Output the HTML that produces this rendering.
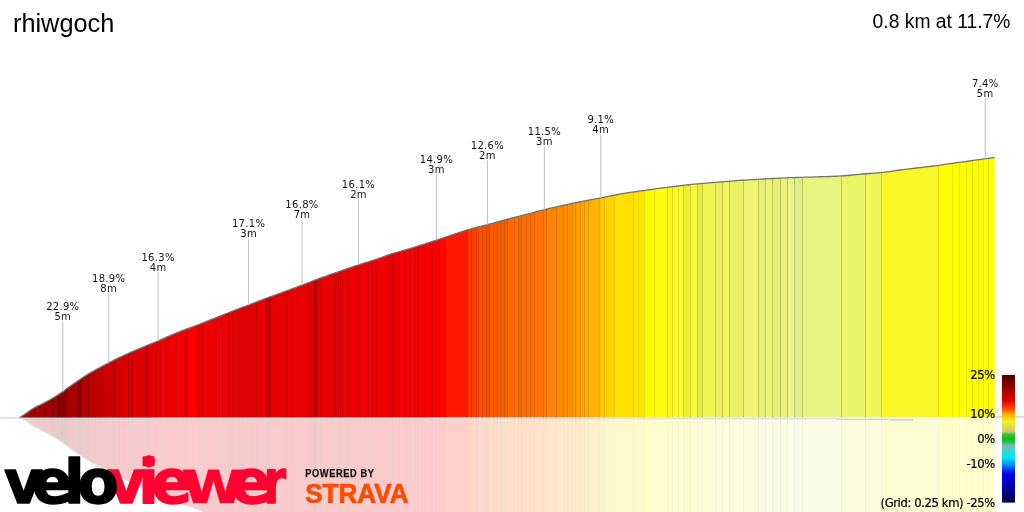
<!DOCTYPE html>
<html lang="en"><head><meta charset="utf-8"><title>rhiwgoch</title>
<style>
html,body{margin:0;padding:0;background:#fff;}
body{width:1024px;height:512px;overflow:hidden;position:relative;font-family:"Liberation Sans",sans-serif;}
svg{position:absolute;left:0;top:0;display:block;}
.lb{font-family:"DejaVu Sans","Liberation Sans",sans-serif;font-size:10px;letter-spacing:0.3px;fill:#111;text-anchor:middle;}
.lg{font-family:"DejaVu Sans","Liberation Sans",sans-serif;font-size:11.6px;fill:#000;stroke:#000;stroke-width:0.2px;text-anchor:end;letter-spacing:-0.38px;}
.t1{font-family:"Liberation Sans",sans-serif;font-size:25.3px;fill:#000;}
.t2{font-family:"Liberation Sans",sans-serif;font-size:19.3px;fill:#000;text-anchor:end;}
</style></head><body>
<svg width="1024" height="512" viewBox="0 0 1024 512">
<defs>
<linearGradient id="bar" x1="0" y1="0" x2="0" y2="1">
<stop offset="0" stop-color="#4c0000"/><stop offset="0.108" stop-color="#a00000"/><stop offset="0.197" stop-color="#e00000"/>
<stop offset="0.265" stop-color="#ff4800"/><stop offset="0.31" stop-color="#ffb000"/><stop offset="0.365" stop-color="#f4f020"/>
<stop offset="0.445" stop-color="#ccc874"/><stop offset="0.468" stop-color="#38c030"/><stop offset="0.5" stop-color="#08c018"/>
<stop offset="0.528" stop-color="#30c050"/><stop offset="0.552" stop-color="#80b8b0"/><stop offset="0.6" stop-color="#30d8d8"/>
<stop offset="0.646" stop-color="#00e8f0"/><stop offset="0.70" stop-color="#0090ff"/><stop offset="0.775" stop-color="#0000f0"/>
<stop offset="0.915" stop-color="#000090"/><stop offset="1" stop-color="#000048"/>
</linearGradient>
<g id="prof">
<g>
<path d="M19.50 418.00 L19.50 417.90 L22.50 415.78 L25.50 413.70 L28.50 411.65 L30.60 410.20 L30.60 417.99 Z" fill="#b00000"/>
<path d="M30.00 417.99 L30.00 410.62 L31.50 409.58 L34.50 407.70 L34.60 407.65 L34.60 417.99 Z" fill="#a80000"/>
<path d="M34.00 417.99 L34.00 408.01 L34.50 407.70 L37.50 406.19 L39.60 405.22 L39.60 417.98 Z" fill="#a80000"/>
<path d="M39.00 417.98 L39.00 405.50 L40.50 404.80 L43.50 403.26 L44.60 402.68 L44.60 417.98 Z" fill="#a40000"/>
<path d="M44.00 417.98 L44.00 403.00 L46.50 401.67 L49.50 400.00 L52.50 398.27 L52.60 398.21 L52.60 417.97 Z" fill="#a40000"/>
<path d="M52.00 417.97 L52.00 398.56 L52.50 398.27 L55.50 396.47 L58.50 394.59 L58.60 394.53 L58.60 417.96 Z" fill="#9c0000"/>
<path d="M58.00 417.96 L58.00 394.91 L58.50 394.59 L61.50 392.61 L61.60 392.53 L61.60 417.96 Z" fill="#900000"/>
<path d="M61.00 417.96 L61.00 392.94 L61.50 392.61 L64.50 390.41 L65.60 389.56 L65.60 417.96 Z" fill="#880000"/>
<path d="M65.00 417.96 L65.00 390.02 L67.50 388.09 L67.60 388.01 L67.60 417.96 Z" fill="#980000"/>
<path d="M67.00 417.96 L67.00 388.47 L67.50 388.09 L70.50 385.93 L73.50 383.89 L76.50 381.89 L78.60 380.48 L78.60 417.95 Z" fill="#a80000"/>
<path d="M78.00 417.95 L78.00 380.88 L79.50 379.87 L81.60 378.43 L81.60 417.94 Z" fill="#980000"/>
<path d="M81.00 417.94 L81.00 378.84 L82.50 377.82 L85.50 375.80 L88.50 373.90 L88.60 373.84 L88.60 417.94 Z" fill="#b00000"/>
<path d="M88.00 417.94 L88.00 374.22 L88.50 373.90 L91.50 372.14 L94.50 370.48 L95.60 369.88 L95.60 417.93 Z" fill="#b80000"/>
<path d="M95.00 417.93 L95.00 370.21 L97.50 368.85 L100.50 367.22 L101.60 366.62 L101.60 417.92 Z" fill="#c00000"/>
<path d="M101.00 417.93 L101.00 366.94 L103.50 365.59 L105.60 364.46 L105.60 417.92 Z" fill="#c80000"/>
<path d="M105.00 417.92 L105.00 364.78 L106.50 363.98 L109.50 362.40 L112.50 360.87 L114.60 359.82 L114.60 417.91 Z" fill="#cc0000"/>
<path d="M114.00 417.91 L114.00 360.12 L115.50 359.37 L118.50 357.91 L119.60 357.39 L119.60 417.91 Z" fill="#d40000"/>
<path d="M119.00 417.91 L119.00 357.68 L121.50 356.50 L123.60 355.53 L123.60 417.90 Z" fill="#d40000"/>
<path d="M123.00 417.90 L123.00 355.80 L124.50 355.11 L127.50 353.74 L128.60 353.25 L128.60 417.90 Z" fill="#d80000"/>
<path d="M128.00 417.90 L128.00 353.52 L130.50 352.40 L132.60 351.48 L132.60 417.90 Z" fill="#d40000"/>
<path d="M132.00 417.90 L132.00 351.74 L133.50 351.08 L136.50 349.79 L139.50 348.53 L142.50 347.30 L145.50 346.10 L146.60 345.66 L146.60 417.88 Z" fill="#dc0000"/>
<path d="M146.00 417.88 L146.00 345.90 L148.50 344.90 L149.60 344.46 L149.60 417.88 Z" fill="#d40000"/>
<path d="M149.00 417.88 L149.00 344.70 L151.50 343.70 L154.50 342.48 L156.60 341.59 L156.60 417.87 Z" fill="#e80000"/>
<path d="M156.00 417.87 L156.00 341.85 L157.50 341.21 L160.50 339.89 L160.60 339.85 L160.60 417.87 Z" fill="#ea0000"/>
<path d="M160.00 417.87 L160.00 340.11 L160.50 339.89 L163.50 338.52 L166.50 337.16 L166.60 337.11 L166.60 417.86 Z" fill="#ec0000"/>
<path d="M166.00 417.87 L166.00 337.38 L166.50 337.16 L169.50 335.86 L169.60 335.82 L169.60 417.86 Z" fill="#ee0000"/>
<path d="M169.00 417.86 L169.00 336.08 L169.50 335.86 L172.50 334.60 L175.50 333.37 L176.60 332.93 L176.60 417.86 Z" fill="#ee0000"/>
<path d="M176.00 417.86 L176.00 333.17 L178.50 332.16 L181.50 330.97 L181.60 330.93 L181.60 417.85 Z" fill="#f00000"/>
<path d="M181.00 417.85 L181.00 331.17 L181.50 330.97 L184.50 329.81 L186.60 329.02 L186.60 417.85 Z" fill="#f00000"/>
<path d="M186.00 417.85 L186.00 329.24 L187.50 328.68 L190.50 327.59 L193.50 326.51 L196.50 325.42 L198.60 324.63 L198.60 417.84 Z" fill="#f80000"/>
<path d="M198.00 417.84 L198.00 324.85 L199.50 324.29 L202.50 323.12 L202.60 323.08 L202.60 417.83 Z" fill="#e80000"/>
<path d="M202.00 417.83 L202.00 323.32 L202.50 323.12 L205.50 321.92 L208.50 320.69 L211.50 319.46 L214.50 318.24 L216.60 317.40 L216.60 417.82 Z" fill="#ee0000"/>
<path d="M216.00 417.82 L216.00 317.64 L217.50 317.04 L220.50 315.85 L222.60 315.02 L222.60 417.81 Z" fill="#f00000"/>
<path d="M222.00 417.81 L222.00 315.26 L223.50 314.66 L226.50 313.48 L228.60 312.66 L228.60 417.81 Z" fill="#f20000"/>
<path d="M228.00 417.81 L228.00 312.90 L229.50 312.31 L232.50 311.15 L232.60 311.11 L232.60 417.80 Z" fill="#e80000"/>
<path d="M232.00 417.80 L232.00 311.34 L232.50 311.15 L235.50 309.99 L238.50 308.85 L238.60 308.81 L238.60 417.80 Z" fill="#e80000"/>
<path d="M238.00 417.80 L238.00 309.04 L238.50 308.85 L241.50 307.71 L242.60 307.29 L242.60 417.79 Z" fill="#e80000"/>
<path d="M242.00 417.80 L242.00 307.52 L244.50 306.57 L247.50 305.43 L247.60 305.39 L247.60 417.79 Z" fill="#e40000"/>
<path d="M247.00 417.79 L247.00 305.62 L247.50 305.43 L250.50 304.28 L251.60 303.86 L251.60 417.79 Z" fill="#e40000"/>
<path d="M251.00 417.79 L251.00 304.09 L253.50 303.13 L256.50 301.98 L256.60 301.94 L256.60 417.78 Z" fill="#e00000"/>
<path d="M256.00 417.78 L256.00 302.17 L256.50 301.98 L259.50 300.83 L262.50 299.69 L265.50 298.56 L266.60 298.16 L266.60 417.77 Z" fill="#e80000"/>
<path d="M266.00 417.77 L266.00 298.38 L268.50 297.45 L270.60 296.68 L270.60 417.77 Z" fill="#cc0000"/>
<path d="M270.00 417.77 L270.00 296.90 L271.50 296.35 L274.50 295.26 L277.50 294.16 L280.50 293.06 L283.50 291.95 L285.60 291.18 L285.60 417.75 Z" fill="#e60000"/>
<path d="M285.00 417.76 L285.00 291.40 L286.50 290.85 L287.60 290.44 L287.60 417.75 Z" fill="#e40000"/>
<path d="M287.00 417.75 L287.00 290.66 L289.50 289.74 L291.60 288.96 L291.60 417.75 Z" fill="#e60000"/>
<path d="M291.00 417.75 L291.00 289.18 L292.50 288.63 L293.60 288.22 L293.60 417.75 Z" fill="#e40000"/>
<path d="M293.00 417.75 L293.00 288.45 L295.50 287.52 L297.60 286.74 L297.60 417.74 Z" fill="#e60000"/>
<path d="M297.00 417.74 L297.00 286.96 L298.50 286.40 L301.50 285.29 L304.50 284.16 L307.50 283.02 L308.60 282.60 L308.60 417.73 Z" fill="#e60000"/>
<path d="M308.00 417.73 L308.00 282.83 L310.50 281.88 L311.60 281.46 L311.60 417.73 Z" fill="#e40000"/>
<path d="M311.00 417.73 L311.00 281.69 L313.50 280.73 L313.60 280.69 L313.60 417.73 Z" fill="#e20000"/>
<path d="M313.00 417.73 L313.00 280.92 L313.50 280.73 L316.50 279.59 L316.60 279.56 L316.60 417.73 Z" fill="#b80000"/>
<path d="M316.00 417.73 L316.00 279.78 L316.50 279.59 L319.50 278.47 L320.60 278.06 L320.60 417.72 Z" fill="#e40000"/>
<path d="M320.00 417.72 L320.00 278.28 L322.50 277.36 L325.50 276.27 L328.50 275.19 L331.50 274.14 L331.60 274.10 L331.60 417.71 Z" fill="#e80000"/>
<path d="M331.00 417.71 L331.00 274.31 L331.50 274.14 L334.50 273.08 L334.60 273.05 L334.60 417.71 Z" fill="#e60000"/>
<path d="M334.00 417.71 L334.00 273.26 L334.50 273.08 L337.50 272.04 L338.60 271.66 L338.60 417.71 Z" fill="#e80000"/>
<path d="M338.00 417.71 L338.00 271.87 L340.50 271.00 L340.60 270.96 L340.60 417.70 Z" fill="#e60000"/>
<path d="M340.00 417.70 L340.00 271.17 L340.50 271.00 L343.50 269.95 L346.50 268.92 L348.60 268.20 L348.60 417.70 Z" fill="#e80000"/>
<path d="M348.00 417.70 L348.00 268.40 L349.50 267.89 L352.50 266.87 L355.50 265.86 L358.50 264.87 L358.60 264.84 L358.60 417.69 Z" fill="#ea0000"/>
<path d="M358.00 417.69 L358.00 265.03 L358.50 264.87 L361.50 263.90 L361.60 263.87 L361.60 417.68 Z" fill="#ee0000"/>
<path d="M361.00 417.69 L361.00 264.06 L361.50 263.90 L364.50 262.96 L365.60 262.62 L365.60 417.68 Z" fill="#f00000"/>
<path d="M365.00 417.68 L365.00 262.81 L367.50 262.03 L368.60 261.69 L368.60 417.68 Z" fill="#ee0000"/>
<path d="M368.00 417.68 L368.00 261.88 L370.50 261.09 L372.60 260.42 L372.60 417.67 Z" fill="#f00000"/>
<path d="M372.00 417.68 L372.00 260.61 L373.50 260.13 L376.50 259.12 L376.60 259.09 L376.60 417.67 Z" fill="#f00000"/>
<path d="M376.00 417.67 L376.00 259.29 L376.50 259.12 L379.50 258.07 L382.50 256.99 L385.50 255.92 L387.60 255.20 L387.60 417.66 Z" fill="#f00000"/>
<path d="M387.00 417.66 L387.00 255.41 L388.50 254.89 L390.60 254.21 L390.60 417.66 Z" fill="#ee0000"/>
<path d="M390.00 417.66 L390.00 254.41 L391.50 253.92 L392.60 253.59 L392.60 417.66 Z" fill="#f40000"/>
<path d="M392.00 417.66 L392.00 253.77 L394.50 253.00 L397.50 252.12 L399.60 251.51 L399.60 417.65 Z" fill="#e80000"/>
<path d="M399.00 417.65 L399.00 251.68 L400.50 251.25 L403.50 250.39 L404.60 250.08 L404.60 417.64 Z" fill="#ff0000"/>
<path d="M404.00 417.65 L404.00 250.25 L406.50 249.53 L409.50 248.65 L410.60 248.32 L410.60 417.64 Z" fill="#f00000"/>
<path d="M410.00 417.64 L410.00 248.50 L412.50 247.75 L414.60 247.10 L414.60 417.64 Z" fill="#ff0000"/>
<path d="M414.00 417.64 L414.00 247.29 L415.50 246.82 L418.50 245.89 L418.60 245.86 L418.60 417.63 Z" fill="#f00000"/>
<path d="M418.00 417.63 L418.00 246.05 L418.50 245.89 L421.50 244.95 L421.60 244.92 L421.60 417.63 Z" fill="#ff0000"/>
<path d="M421.00 417.63 L421.00 245.11 L421.50 244.95 L424.50 244.00 L425.60 243.65 L425.60 417.63 Z" fill="#f20000"/>
<path d="M425.00 417.63 L425.00 243.84 L427.50 243.05 L429.60 242.37 L429.60 417.62 Z" fill="#ff0000"/>
<path d="M429.00 417.62 L429.00 242.56 L430.50 242.08 L432.60 241.40 L432.60 417.62 Z" fill="#f40000"/>
<path d="M432.00 417.62 L432.00 241.60 L433.50 241.11 L435.60 240.43 L435.60 417.62 Z" fill="#ff0000"/>
<path d="M435.00 417.62 L435.00 240.62 L436.50 240.13 L439.50 239.14 L439.60 239.11 L439.60 417.61 Z" fill="#f60000"/>
<path d="M439.00 417.61 L439.00 239.31 L439.50 239.14 L442.50 238.13 L445.50 237.11 L445.60 237.08 L445.60 417.61 Z" fill="#ff0400"/>
<path d="M445.00 417.61 L445.00 237.28 L445.50 237.11 L448.50 236.09 L451.50 235.07 L454.50 234.06 L457.50 233.07 L460.50 232.06 L463.50 231.07 L466.50 230.13 L467.60 229.81 L467.60 417.59 Z" fill="#ff1800"/>
<path d="M467.00 417.59 L467.00 229.98 L469.50 229.26 L471.60 228.70 L471.60 417.58 Z" fill="#ff3c00"/>
<path d="M471.00 417.58 L471.00 228.86 L472.50 228.45 L475.50 227.69 L476.60 227.41 L476.60 417.58 Z" fill="#ff3c00"/>
<path d="M476.00 417.58 L476.00 227.56 L478.50 226.94 L478.60 226.92 L478.60 417.58 Z" fill="#f84800"/>
<path d="M478.00 417.58 L478.00 227.06 L478.50 226.94 L481.50 226.20 L482.60 225.93 L482.60 417.57 Z" fill="#ff5000"/>
<path d="M482.00 417.57 L482.00 226.08 L484.50 225.45 L486.60 224.91 L486.60 417.57 Z" fill="#f85000"/>
<path d="M486.00 417.57 L486.00 225.06 L487.50 224.67 L489.60 224.11 L489.60 417.57 Z" fill="#f05000"/>
<path d="M489.00 417.57 L489.00 224.27 L490.50 223.87 L493.50 223.05 L493.60 223.02 L493.60 417.56 Z" fill="#ff5a00"/>
<path d="M493.00 417.56 L493.00 223.18 L493.50 223.05 L496.50 222.22 L497.60 221.91 L497.60 417.56 Z" fill="#f45c00"/>
<path d="M497.00 417.56 L497.00 222.08 L499.50 221.38 L500.60 221.08 L500.60 417.56 Z" fill="#ff6000"/>
<path d="M500.00 417.56 L500.00 221.25 L502.50 220.56 L504.60 219.99 L504.60 417.55 Z" fill="#f06000"/>
<path d="M504.00 417.55 L504.00 220.15 L505.50 219.75 L507.60 219.20 L507.60 417.55 Z" fill="#f06400"/>
<path d="M507.00 417.55 L507.00 219.36 L508.50 218.96 L511.50 218.19 L514.50 217.44 L514.60 217.41 L514.60 417.54 Z" fill="#ff6800"/>
<path d="M514.00 417.54 L514.00 217.57 L514.50 217.44 L517.50 216.69 L518.60 216.41 L518.60 417.54 Z" fill="#ff6c00"/>
<path d="M518.00 417.54 L518.00 216.56 L520.50 215.93 L521.60 215.65 L521.60 417.54 Z" fill="#f06c00"/>
<path d="M521.00 417.54 L521.00 215.80 L523.50 215.16 L526.50 214.38 L526.60 214.35 L526.60 417.53 Z" fill="#f87000"/>
<path d="M526.00 417.53 L526.00 214.51 L526.50 214.38 L529.50 213.59 L530.60 213.30 L530.60 417.53 Z" fill="#ff7000"/>
<path d="M530.00 417.53 L530.00 213.45 L532.50 212.79 L534.60 212.24 L534.60 417.52 Z" fill="#ff7000"/>
<path d="M534.00 417.53 L534.00 212.40 L535.50 212.00 L538.50 211.22 L541.50 210.45 L543.60 209.93 L543.60 417.52 Z" fill="#ff7400"/>
<path d="M543.00 417.52 L543.00 210.08 L544.50 209.70 L546.60 209.19 L546.60 417.51 Z" fill="#ff7c00"/>
<path d="M546.00 417.51 L546.00 209.33 L547.50 208.97 L550.50 208.24 L553.50 207.53 L556.50 206.82 L556.60 206.80 L556.60 417.50 Z" fill="#ff8400"/>
<path d="M556.00 417.51 L556.00 206.94 L556.50 206.82 L559.50 206.13 L562.50 205.46 L563.60 205.21 L563.60 417.50 Z" fill="#fc8a00"/>
<path d="M563.00 417.50 L563.00 205.35 L565.50 204.79 L567.60 204.33 L567.60 417.49 Z" fill="#fc8e00"/>
<path d="M567.00 417.50 L567.00 204.47 L568.50 204.14 L571.50 203.50 L572.60 203.27 L572.60 417.49 Z" fill="#fe9200"/>
<path d="M572.00 417.49 L572.00 203.39 L574.50 202.87 L575.60 202.65 L575.60 417.49 Z" fill="#fe9a00"/>
<path d="M575.00 417.49 L575.00 202.77 L577.50 202.26 L580.50 201.66 L580.60 201.64 L580.60 417.48 Z" fill="#fe9c00"/>
<path d="M580.00 417.48 L580.00 201.76 L580.50 201.66 L583.50 201.09 L584.60 200.89 L584.60 417.48 Z" fill="#fca400"/>
<path d="M584.00 417.48 L584.00 201.00 L586.50 200.54 L588.60 200.16 L588.60 417.48 Z" fill="#feac00"/>
<path d="M588.00 417.48 L588.00 200.27 L589.50 200.00 L592.50 199.46 L595.50 198.92 L598.50 198.36 L599.60 198.15 L599.60 417.46 Z" fill="#fcb400"/>
<path d="M599.00 417.47 L599.00 198.27 L601.50 197.78 L604.50 197.16 L604.60 197.14 L604.60 417.46 Z" fill="#ffc800"/>
<path d="M604.00 417.46 L604.00 197.27 L604.50 197.16 L607.50 196.52 L610.50 195.89 L613.50 195.31 L614.60 195.10 L614.60 417.45 Z" fill="#fcd400"/>
<path d="M614.00 417.45 L614.00 195.21 L616.50 194.74 L619.50 194.20 L622.50 193.67 L625.50 193.16 L628.50 192.67 L631.50 192.21 L633.60 191.91 L633.60 417.43 Z" fill="#ffe000"/>
<path d="M633.00 417.43 L633.00 192.00 L634.50 191.78 L637.50 191.37 L638.60 191.22 L638.60 417.43 Z" fill="#ffe400"/>
<path d="M638.00 417.43 L638.00 191.30 L640.50 190.97 L643.50 190.57 L644.60 190.42 L644.60 417.42 Z" fill="#f8e800"/>
<path d="M644.00 417.42 L644.00 190.50 L646.50 190.16 L649.50 189.74 L652.50 189.31 L654.60 189.02 L654.60 417.41 Z" fill="#ffff00"/>
<path d="M654.00 417.41 L654.00 189.10 L655.50 188.89 L658.50 188.47 L661.50 188.07 L664.50 187.68 L667.50 187.31 L667.60 187.30 L667.60 417.40 Z" fill="#fcfc14"/>
<path d="M667.00 417.40 L667.00 187.38 L667.50 187.31 L670.50 186.96 L672.60 186.71 L672.60 417.40 Z" fill="#f8f820"/>
<path d="M672.00 417.40 L672.00 186.78 L673.50 186.60 L676.50 186.25 L678.60 186.00 L678.60 417.39 Z" fill="#fafa24"/>
<path d="M678.00 417.39 L678.00 186.07 L679.50 185.89 L682.50 185.51 L683.60 185.37 L683.60 417.39 Z" fill="#fcfc30"/>
<path d="M683.00 417.39 L683.00 185.44 L685.50 185.12 L688.50 184.76 L690.60 184.54 L690.60 417.38 Z" fill="#ecf030"/>
<path d="M690.00 417.38 L690.00 184.61 L691.50 184.45 L694.50 184.17 L697.50 183.90 L697.60 183.89 L697.60 417.37 Z" fill="#f6f840"/>
<path d="M697.00 417.38 L697.00 183.95 L697.50 183.90 L700.50 183.65 L702.60 183.48 L702.60 417.37 Z" fill="#e8ec40"/>
<path d="M702.00 417.37 L702.00 183.53 L703.50 183.41 L706.50 183.18 L709.50 182.94 L712.50 182.70 L715.50 182.46 L715.60 182.45 L715.60 417.36 Z" fill="#f2f650"/>
<path d="M715.00 417.36 L715.00 182.50 L715.50 182.46 L718.50 182.21 L721.50 181.95 L722.60 181.85 L722.60 417.35 Z" fill="#ecf060"/>
<path d="M722.00 417.35 L722.00 181.91 L724.50 181.69 L727.50 181.43 L729.60 181.25 L729.60 417.34 Z" fill="#f2f65c"/>
<path d="M729.00 417.35 L729.00 181.30 L730.50 181.18 L733.50 180.93 L736.50 180.69 L739.50 180.46 L742.50 180.24 L743.60 180.17 L743.60 417.33 Z" fill="#eaf064"/>
<path d="M743.00 417.33 L743.00 180.21 L745.50 180.04 L748.50 179.85 L751.50 179.66 L754.50 179.49 L757.50 179.31 L758.60 179.25 L758.60 417.32 Z" fill="#ecf470"/>
<path d="M758.00 417.32 L758.00 179.29 L760.50 179.15 L763.50 178.98 L765.60 178.87 L765.60 417.31 Z" fill="#e4f07c"/>
<path d="M765.00 417.31 L765.00 178.90 L766.50 178.82 L769.50 178.65 L772.50 178.49 L772.60 178.48 L772.60 417.31 Z" fill="#ecf47c"/>
<path d="M772.00 417.31 L772.00 178.52 L772.50 178.49 L775.50 178.33 L778.50 178.18 L780.60 178.08 L780.60 417.30 Z" fill="#e4ee78"/>
<path d="M780.00 417.30 L780.00 178.10 L781.50 178.03 L784.50 177.90 L787.50 177.78 L787.60 177.77 L787.60 417.29 Z" fill="#e8f27c"/>
<path d="M787.00 417.29 L787.00 177.80 L787.50 177.78 L790.50 177.67 L793.50 177.58 L794.60 177.54 L794.60 417.28 Z" fill="#e8f688"/>
<path d="M794.00 417.29 L794.00 177.56 L796.50 177.48 L799.50 177.39 L802.50 177.30 L802.60 177.30 L802.60 417.28 Z" fill="#e0f088"/>
<path d="M802.00 417.28 L802.00 177.32 L802.50 177.30 L805.50 177.20 L808.50 177.11 L811.50 177.03 L814.50 176.94 L817.50 176.86 L820.50 176.77 L823.50 176.68 L826.50 176.58 L829.50 176.48 L832.50 176.36 L835.50 176.24 L838.50 176.10 L841.50 175.95 L841.60 175.94 L841.60 417.24 Z" fill="#e8f480"/>
<path d="M841.00 417.24 L841.00 175.98 L841.50 175.95 L844.50 175.75 L847.50 175.51 L850.50 175.23 L853.50 174.93 L856.50 174.62 L859.50 174.31 L862.50 174.02 L865.50 173.76 L865.60 173.75 L865.60 417.22 Z" fill="#ecf468"/>
<path d="M865.00 417.22 L865.00 173.80 L865.50 173.76 L868.50 173.52 L871.50 173.30 L874.50 173.08 L877.50 172.85 L880.50 172.59 L881.60 172.47 L881.60 417.20 Z" fill="#f0f658"/>
<path d="M881.00 417.21 L881.00 172.54 L883.50 172.28 L886.50 171.92 L889.50 171.52 L892.50 171.10 L895.50 170.66 L898.50 170.24 L901.50 169.83 L904.50 169.45 L907.50 169.08 L910.50 168.71 L913.50 168.35 L916.50 167.99 L919.50 167.63 L922.50 167.29 L925.50 166.95 L928.50 166.61 L931.50 166.27 L934.50 165.91 L937.50 165.53 L938.60 165.37 L938.60 417.15 Z" fill="#f8f828"/>
<path d="M938.00 417.15 L938.00 165.46 L940.50 165.11 L943.50 164.65 L946.50 164.19 L949.50 163.72 L952.50 163.29 L952.60 163.27 L952.60 417.14 Z" fill="#fefe04"/>
<path d="M952.00 417.14 L952.00 163.36 L952.50 163.29 L955.50 162.87 L958.50 162.47 L959.60 162.33 L959.60 417.13 Z" fill="#fefe04"/>
<path d="M959.00 417.13 L959.00 162.41 L961.50 162.07 L964.50 161.67 L966.60 161.38 L966.60 417.13 Z" fill="#fefe04"/>
<path d="M966.00 417.13 L966.00 161.46 L967.50 161.25 L970.50 160.83 L972.60 160.53 L972.60 417.12 Z" fill="#fefe04"/>
<path d="M972.00 417.12 L972.00 160.62 L973.50 160.41 L976.50 159.98 L978.60 159.68 L978.60 417.12 Z" fill="#fefe04"/>
<path d="M978.00 417.12 L978.00 159.77 L979.50 159.55 L982.50 159.14 L983.60 158.98 L983.60 417.11 Z" fill="#fefe04"/>
<path d="M983.00 417.11 L983.00 159.07 L985.50 158.72 L988.50 158.32 L988.60 158.31 L988.60 417.11 Z" fill="#fefe04"/>
<path d="M988.00 417.11 L988.00 158.39 L988.50 158.32 L991.50 157.92 L994.50 157.53 L994.70 157.50 L994.70 417.10 Z" fill="#fefe04"/>
<g fill="none" stroke-width="1"><path d="M30.5 410.27 V418.0" stroke="#830000"/><path d="M34.5 407.70 V418.0" stroke="#7e0000"/><path d="M39.5 405.26 V418.0" stroke="#7c0000"/><path d="M44.5 402.73 V418.0" stroke="#7a0000"/><path d="M52.5 398.27 V418.0" stroke="#760000"/><path d="M58.5 394.59 V418.0" stroke="#6f0000"/><path d="M61.5 392.61 V418.0" stroke="#670000"/><path d="M65.5 389.63 V418.0" stroke="#6a0000"/><path d="M67.5 388.09 V418.0" stroke="#760000"/><path d="M78.5 380.54 V417.9" stroke="#760000"/><path d="M81.5 378.50 V417.9" stroke="#7a0000"/><path d="M88.5 373.90 V417.9" stroke="#8c0000"/><path d="M95.5 369.94 V417.9" stroke="#950000"/><path d="M101.5 366.67 V417.9" stroke="#9e0000"/><path d="M105.5 364.51 V417.9" stroke="#a50000"/><path d="M114.5 359.87 V417.9" stroke="#ad0000"/><path d="M119.5 357.44 V417.9" stroke="#b20000"/><path d="M123.5 355.57 V417.9" stroke="#b40000"/><path d="M128.5 353.30 V417.9" stroke="#b40000"/><path d="M132.5 351.52 V417.9" stroke="#b70000"/><path d="M146.5 345.70 V417.9" stroke="#b70000"/><path d="M149.5 344.50 V417.9" stroke="#bf0000"/><path d="M156.5 341.64 V417.9" stroke="#cd0000"/><path d="M160.5 339.89 V417.9" stroke="#ce0000"/><path d="M166.5 337.16 V417.9" stroke="#d00000"/><path d="M169.5 335.86 V417.9" stroke="#d10000"/><path d="M176.5 332.97 V417.9" stroke="#d20000"/><path d="M181.5 330.97 V417.9" stroke="#d30000"/><path d="M186.5 329.06 V417.8" stroke="#d60000"/><path d="M198.5 324.67 V417.8" stroke="#d30000"/><path d="M202.5 323.12 V417.8" stroke="#ce0000"/><path d="M216.5 317.44 V417.8" stroke="#d20000"/><path d="M222.5 315.06 V417.8" stroke="#d40000"/><path d="M228.5 312.70 V417.8" stroke="#d00000"/><path d="M232.5 311.15 V417.8" stroke="#cc0000"/><path d="M238.5 308.85 V417.8" stroke="#cc0000"/><path d="M242.5 307.33 V417.8" stroke="#c90000"/><path d="M247.5 305.43 V417.8" stroke="#c60000"/><path d="M251.5 303.90 V417.8" stroke="#c40000"/><path d="M256.5 301.98 V417.8" stroke="#c60000"/><path d="M266.5 298.19 V417.8" stroke="#b90000"/><path d="M270.5 296.72 V417.8" stroke="#b80000"/><path d="M285.5 291.21 V417.8" stroke="#c80000"/><path d="M287.5 290.48 V417.8" stroke="#c80000"/><path d="M291.5 289.00 V417.7" stroke="#c80000"/><path d="M293.5 288.26 V417.7" stroke="#c80000"/><path d="M297.5 286.78 V417.7" stroke="#c90000"/><path d="M308.5 282.64 V417.7" stroke="#c80000"/><path d="M311.5 281.50 V417.7" stroke="#c50000"/><path d="M313.5 280.73 V417.7" stroke="#a90000"/><path d="M316.5 279.59 V417.7" stroke="#aa0000"/><path d="M320.5 278.10 V417.7" stroke="#c90000"/><path d="M331.5 274.14 V417.7" stroke="#ca0000"/><path d="M334.5 273.08 V417.7" stroke="#ca0000"/><path d="M338.5 271.69 V417.7" stroke="#ca0000"/><path d="M340.5 271.00 V417.7" stroke="#ca0000"/><path d="M348.5 268.23 V417.7" stroke="#cd0000"/><path d="M358.5 264.87 V417.7" stroke="#cf0000"/><path d="M361.5 263.90 V417.7" stroke="#d20000"/><path d="M365.5 262.65 V417.7" stroke="#d20000"/><path d="M368.5 261.72 V417.7" stroke="#d20000"/><path d="M372.5 260.45 V417.7" stroke="#d30000"/><path d="M376.5 259.12 V417.7" stroke="#d30000"/><path d="M387.5 255.23 V417.7" stroke="#d20000"/><path d="M390.5 254.25 V417.7" stroke="#d40000"/><path d="M392.5 253.62 V417.7" stroke="#d10000"/><path d="M399.5 251.54 V417.6" stroke="#d60000"/><path d="M404.5 250.10 V417.6" stroke="#d90000"/><path d="M410.5 248.35 V417.6" stroke="#d90000"/><path d="M414.5 247.13 V417.6" stroke="#d90000"/><path d="M418.5 245.89 V417.6" stroke="#d90000"/><path d="M421.5 244.95 V417.6" stroke="#da0000"/><path d="M425.5 243.68 V417.6" stroke="#da0000"/><path d="M429.5 242.40 V417.6" stroke="#db0000"/><path d="M432.5 241.43 V417.6" stroke="#db0000"/><path d="M435.5 240.46 V417.6" stroke="#dc0000"/><path d="M439.5 239.14 V417.6" stroke="#dc0100"/><path d="M445.5 237.11 V417.6" stroke="#e00c00"/><path d="M467.5 229.84 V417.6" stroke="#e02400"/><path d="M471.5 228.72 V417.6" stroke="#e03400"/><path d="M476.5 227.44 V417.6" stroke="#dd3a00"/><path d="M478.5 226.94 V417.6" stroke="#dd4200"/><path d="M482.5 225.95 V417.6" stroke="#dd4600"/><path d="M486.5 224.93 V417.6" stroke="#d64600"/><path d="M489.5 224.14 V417.6" stroke="#d94a00"/><path d="M493.5 223.05 V417.6" stroke="#db5000"/><path d="M497.5 221.94 V417.6" stroke="#db5200"/><path d="M500.5 221.11 V417.6" stroke="#d95400"/><path d="M504.5 220.02 V417.6" stroke="#d35600"/><path d="M507.5 219.22 V417.6" stroke="#d95900"/><path d="M514.5 217.44 V417.5" stroke="#e05d00"/><path d="M518.5 216.44 V417.5" stroke="#d95f00"/><path d="M521.5 215.68 V417.5" stroke="#d66000"/><path d="M526.5 214.38 V417.5" stroke="#dd6200"/><path d="M530.5 213.32 V417.5" stroke="#e06200"/><path d="M534.5 212.27 V417.5" stroke="#e06400"/><path d="M543.5 209.95 V417.5" stroke="#e06900"/><path d="M546.5 209.21 V417.5" stroke="#e07000"/><path d="M556.5 206.82 V417.5" stroke="#df7600"/><path d="M563.5 205.23 V417.5" stroke="#dd7b00"/><path d="M567.5 204.36 V417.5" stroke="#de7e00"/><path d="M572.5 203.29 V417.5" stroke="#df8400"/><path d="M575.5 202.67 V417.5" stroke="#df8800"/><path d="M580.5 201.66 V417.5" stroke="#de8c00"/><path d="M584.5 200.91 V417.5" stroke="#de9300"/><path d="M588.5 200.18 V417.5" stroke="#de9a00"/><path d="M599.5 198.17 V417.5" stroke="#dfa700"/><path d="M604.5 197.16 V417.5" stroke="#e9b900"/><path d="M614.5 195.12 V417.5" stroke="#e9c400"/><path d="M633.5 191.93 V417.4" stroke="#eacb00"/><path d="M638.5 191.24 V417.4" stroke="#e7cf00"/><path d="M644.5 190.43 V417.4" stroke="#e7db00"/><path d="M654.5 189.03 V417.4" stroke="#e7e107"/><path d="M667.5 187.31 V417.4" stroke="#e1da14"/><path d="M672.5 186.72 V417.4" stroke="#dfd71a"/><path d="M678.5 186.01 V417.4" stroke="#dfd720"/><path d="M683.5 185.38 V417.4" stroke="#d8d124"/><path d="M690.5 184.55 V417.4" stroke="#d4cd2a"/><path d="M697.5 183.90 V417.4" stroke="#d1ca2f"/><path d="M702.5 183.49 V417.4" stroke="#cec735"/><path d="M715.5 182.46 V417.4" stroke="#cdc540"/><path d="M722.5 181.86 V417.4" stroke="#ccc344"/><path d="M729.5 181.26 V417.3" stroke="#cac345"/><path d="M743.5 180.17 V417.3" stroke="#c7c14c"/><path d="M758.5 179.26 V417.3" stroke="#c5c154"/><path d="M765.5 178.87 V417.3" stroke="#c5c159"/><path d="M772.5 178.49 V417.3" stroke="#c5c057"/><path d="M780.5 178.08 V417.3" stroke="#c3c057"/><path d="M787.5 177.78 V417.3" stroke="#c5c35d"/><path d="M794.5 177.55 V417.3" stroke="#c1c261"/><path d="M802.5 177.30 V417.3" stroke="#c1c15f"/><path d="M841.5 175.95 V417.2" stroke="#c6c353"/><path d="M865.5 173.76 V417.2" stroke="#cac445"/><path d="M881.5 172.48 V417.2" stroke="#d5ce2f"/><path d="M938.5 165.39 V417.2" stroke="#e3dc11"/><path d="M952.5 163.29 V417.1" stroke="#e8e303"/><path d="M959.5 162.34 V417.1" stroke="#e8e303"/><path d="M966.5 161.39 V417.1" stroke="#e8e303"/><path d="M972.5 160.55 V417.1" stroke="#e8e303"/><path d="M978.5 159.70 V417.1" stroke="#e8e303"/><path d="M983.5 159.00 V417.1" stroke="#e8e303"/><path d="M988.5 158.32 V417.1" stroke="#e8e303"/></g>
</g>
<path d="M19.50 417.90 L22.50 415.78 L25.50 413.70 L28.50 411.65 L31.50 409.58 L34.50 407.70 L37.50 406.19 L40.50 404.80 L43.50 403.26 L46.50 401.67 L49.50 400.00 L52.50 398.27 L55.50 396.47 L58.50 394.59 L61.50 392.61 L64.50 390.41 L67.50 388.09 L70.50 385.93 L73.50 383.89 L76.50 381.89 L79.50 379.87 L82.50 377.82 L85.50 375.80 L88.50 373.90 L91.50 372.14 L94.50 370.48 L97.50 368.85 L100.50 367.22 L103.50 365.59 L106.50 363.98 L109.50 362.40 L112.50 360.87 L115.50 359.37 L118.50 357.91 L121.50 356.50 L124.50 355.11 L127.50 353.74 L130.50 352.40 L133.50 351.08 L136.50 349.79 L139.50 348.53 L142.50 347.30 L145.50 346.10 L148.50 344.90 L151.50 343.70 L154.50 342.48 L157.50 341.21 L160.50 339.89 L163.50 338.52 L166.50 337.16 L169.50 335.86 L172.50 334.60 L175.50 333.37 L178.50 332.16 L181.50 330.97 L184.50 329.81 L187.50 328.68 L190.50 327.59 L193.50 326.51 L196.50 325.42 L199.50 324.29 L202.50 323.12 L205.50 321.92 L208.50 320.69 L211.50 319.46 L214.50 318.24 L217.50 317.04 L220.50 315.85 L223.50 314.66 L226.50 313.48 L229.50 312.31 L232.50 311.15 L235.50 309.99 L238.50 308.85 L241.50 307.71 L244.50 306.57 L247.50 305.43 L250.50 304.28 L253.50 303.13 L256.50 301.98 L259.50 300.83 L262.50 299.69 L265.50 298.56 L268.50 297.45 L271.50 296.35 L274.50 295.26 L277.50 294.16 L280.50 293.06 L283.50 291.95 L286.50 290.85 L289.50 289.74 L292.50 288.63 L295.50 287.52 L298.50 286.40 L301.50 285.29 L304.50 284.16 L307.50 283.02 L310.50 281.88 L313.50 280.73 L316.50 279.59 L319.50 278.47 L322.50 277.36 L325.50 276.27 L328.50 275.19 L331.50 274.14 L334.50 273.08 L337.50 272.04 L340.50 271.00 L343.50 269.95 L346.50 268.92 L349.50 267.89 L352.50 266.87 L355.50 265.86 L358.50 264.87 L361.50 263.90 L364.50 262.96 L367.50 262.03 L370.50 261.09 L373.50 260.13 L376.50 259.12 L379.50 258.07 L382.50 256.99 L385.50 255.92 L388.50 254.89 L391.50 253.92 L394.50 253.00 L397.50 252.12 L400.50 251.25 L403.50 250.39 L406.50 249.53 L409.50 248.65 L412.50 247.75 L415.50 246.82 L418.50 245.89 L421.50 244.95 L424.50 244.00 L427.50 243.05 L430.50 242.08 L433.50 241.11 L436.50 240.13 L439.50 239.14 L442.50 238.13 L445.50 237.11 L448.50 236.09 L451.50 235.07 L454.50 234.06 L457.50 233.07 L460.50 232.06 L463.50 231.07 L466.50 230.13 L469.50 229.26 L472.50 228.45 L475.50 227.69 L478.50 226.94 L481.50 226.20 L484.50 225.45 L487.50 224.67 L490.50 223.87 L493.50 223.05 L496.50 222.22 L499.50 221.38 L502.50 220.56 L505.50 219.75 L508.50 218.96 L511.50 218.19 L514.50 217.44 L517.50 216.69 L520.50 215.93 L523.50 215.16 L526.50 214.38 L529.50 213.59 L532.50 212.79 L535.50 212.00 L538.50 211.22 L541.50 210.45 L544.50 209.70 L547.50 208.97 L550.50 208.24 L553.50 207.53 L556.50 206.82 L559.50 206.13 L562.50 205.46 L565.50 204.79 L568.50 204.14 L571.50 203.50 L574.50 202.87 L577.50 202.26 L580.50 201.66 L583.50 201.09 L586.50 200.54 L589.50 200.00 L592.50 199.46 L595.50 198.92 L598.50 198.36 L601.50 197.78 L604.50 197.16 L607.50 196.52 L610.50 195.89 L613.50 195.31 L616.50 194.74 L619.50 194.20 L622.50 193.67 L625.50 193.16 L628.50 192.67 L631.50 192.21 L634.50 191.78 L637.50 191.37 L640.50 190.97 L643.50 190.57 L646.50 190.16 L649.50 189.74 L652.50 189.31 L655.50 188.89 L658.50 188.47 L661.50 188.07 L664.50 187.68 L667.50 187.31 L670.50 186.96 L673.50 186.60 L676.50 186.25 L679.50 185.89 L682.50 185.51 L685.50 185.12 L688.50 184.76 L691.50 184.45 L694.50 184.17 L697.50 183.90 L700.50 183.65 L703.50 183.41 L706.50 183.18 L709.50 182.94 L712.50 182.70 L715.50 182.46 L718.50 182.21 L721.50 181.95 L724.50 181.69 L727.50 181.43 L730.50 181.18 L733.50 180.93 L736.50 180.69 L739.50 180.46 L742.50 180.24 L745.50 180.04 L748.50 179.85 L751.50 179.66 L754.50 179.49 L757.50 179.31 L760.50 179.15 L763.50 178.98 L766.50 178.82 L769.50 178.65 L772.50 178.49 L775.50 178.33 L778.50 178.18 L781.50 178.03 L784.50 177.90 L787.50 177.78 L790.50 177.67 L793.50 177.58 L796.50 177.48 L799.50 177.39 L802.50 177.30 L805.50 177.20 L808.50 177.11 L811.50 177.03 L814.50 176.94 L817.50 176.86 L820.50 176.77 L823.50 176.68 L826.50 176.58 L829.50 176.48 L832.50 176.36 L835.50 176.24 L838.50 176.10 L841.50 175.95 L844.50 175.75 L847.50 175.51 L850.50 175.23 L853.50 174.93 L856.50 174.62 L859.50 174.31 L862.50 174.02 L865.50 173.76 L868.50 173.52 L871.50 173.30 L874.50 173.08 L877.50 172.85 L880.50 172.59 L883.50 172.28 L886.50 171.92 L889.50 171.52 L892.50 171.10 L895.50 170.66 L898.50 170.24 L901.50 169.83 L904.50 169.45 L907.50 169.08 L910.50 168.71 L913.50 168.35 L916.50 167.99 L919.50 167.63 L922.50 167.29 L925.50 166.95 L928.50 166.61 L931.50 166.27 L934.50 165.91 L937.50 165.53 L940.50 165.11 L943.50 164.65 L946.50 164.19 L949.50 163.72 L952.50 163.29 L955.50 162.87 L958.50 162.47 L961.50 162.07 L964.50 161.67 L967.50 161.25 L970.50 160.83 L973.50 160.41 L976.50 159.98 L979.50 159.55 L982.50 159.14 L985.50 158.72 L988.50 158.32 L991.50 157.92 L994.50 157.53 L994.70 157.50" fill="none" stroke="#6c7474" stroke-width="1.3" stroke-linejoin="round"/>
</g>
</defs>
<rect width="1024" height="512" fill="#fff"/>
<path d="M0 418 H19.5 M994.5 416.8 H1024" stroke="#d8d8d8" stroke-width="1.7" fill="none"/>
<use href="#prof" transform="translate(0,834.4) scale(1,-1)" opacity="0.2"/>
<use href="#prof"/>
<path d="M19 418.4 H836" stroke="#dce2e2" stroke-opacity="0.92" stroke-width="1.7" fill="none"/>
<path d="M836 419.3 H889.5" stroke="#d4d4d4" stroke-width="1.6" fill="none"/>
<path d="M890 419.8 H913" stroke="#d4d4d4" stroke-width="2" fill="none"/>
<line x1="62.8" y1="321.5" x2="62.8" y2="391.7" stroke="#c6c6c6" stroke-width="1.1"/>
<text x="62.8" y="310.0" class="lb">22.9%</text><text x="62.8" y="320.0" class="lb">5m</text>
<line x1="108.7" y1="293.5" x2="108.7" y2="362.8" stroke="#c6c6c6" stroke-width="1.1"/>
<text x="108.7" y="282.0" class="lb">18.9%</text><text x="108.7" y="292.0" class="lb">8m</text>
<line x1="158.1" y1="272.5" x2="158.1" y2="341.0" stroke="#c6c6c6" stroke-width="1.1"/>
<text x="158.1" y="261.0" class="lb">16.3%</text><text x="158.1" y="271.0" class="lb">4m</text>
<line x1="248.6" y1="238.5" x2="248.6" y2="305.0" stroke="#c6c6c6" stroke-width="1.1"/>
<text x="248.6" y="227.0" class="lb">17.1%</text><text x="248.6" y="237.0" class="lb">3m</text>
<line x1="302.0" y1="219.5" x2="302.0" y2="285.1" stroke="#c6c6c6" stroke-width="1.1"/>
<text x="302.0" y="208.0" class="lb">16.8%</text><text x="302.0" y="218.0" class="lb">7m</text>
<line x1="358.5" y1="199.5" x2="358.5" y2="264.9" stroke="#c6c6c6" stroke-width="1.1"/>
<text x="358.5" y="188.0" class="lb">16.1%</text><text x="358.5" y="198.0" class="lb">2m</text>
<line x1="436.4" y1="174.5" x2="436.4" y2="240.2" stroke="#c6c6c6" stroke-width="1.1"/>
<text x="436.4" y="163.0" class="lb">14.9%</text><text x="436.4" y="173.0" class="lb">3m</text>
<line x1="487.4" y1="160.5" x2="487.4" y2="224.7" stroke="#c6c6c6" stroke-width="1.1"/>
<text x="487.4" y="149.0" class="lb">12.6%</text><text x="487.4" y="159.0" class="lb">2m</text>
<line x1="544.4" y1="146.5" x2="544.4" y2="209.7" stroke="#c6c6c6" stroke-width="1.1"/>
<text x="544.4" y="135.0" class="lb">11.5%</text><text x="544.4" y="145.0" class="lb">3m</text>
<line x1="600.7" y1="134.5" x2="600.7" y2="197.9" stroke="#c6c6c6" stroke-width="1.1"/>
<text x="600.7" y="123.0" class="lb">9.1%</text><text x="600.7" y="133.0" class="lb">4m</text>
<line x1="985.2" y1="98.5" x2="985.2" y2="158.8" stroke="#c6c6c6" stroke-width="1.1"/>
<text x="985.2" y="87.0" class="lb">7.4%</text><text x="985.2" y="97.0" class="lb">5m</text>
<text x="13" y="31.7" class="t1">rhiwgoch</text>
<text x="1010.5" y="27.8" class="t2">0.8 km at 11.7%</text>
<rect x="1002" y="375" width="13" height="127.6" fill="url(#bar)"/>
<text x="995" y="378.8" class="lg">25%</text>
<text x="995" y="417.8" class="lg">10%</text>
<text x="995" y="442.8" class="lg">0%</text>
<text x="995" y="468.2" class="lg">-10%</text>
<text x="995" y="507" class="lg">(Grid: 0.25 km) -25%</text>
<g font-family="'DejaVu Sans','Liberation Sans',sans-serif" font-weight="bold" font-size="60" stroke-linejoin="round" stroke-width="1.4">
<text y="502.8" fill="#ff0030" stroke="#ff0030"><tspan x="106.7 138.2 151.6">vie</tspan><tspan x="180.4" textLength="66" lengthAdjust="spacingAndGlyphs" stroke-width="0.3">w</tspan><tspan x="230.7">e</tspan><tspan x="263.4" textLength="22.5" lengthAdjust="spacingAndGlyphs">r</tspan></text>
<circle cx="148.9" cy="461.3" r="6.1" fill="#ff0030"/>
<text x="4.1 32 64 77.6" y="502.8" fill="#000" stroke="#000">velo</text>
</g>
<text x="305.3" y="476.8" font-family="'Liberation Sans',sans-serif" font-weight="bold" font-size="10.6" letter-spacing="0.7" fill="#111" stroke="#111" stroke-width="0.25" textLength="69.2" lengthAdjust="spacingAndGlyphs">POWERED BY</text>
<text x="305.2" y="503.2" font-family="'Liberation Sans',sans-serif" font-weight="bold" font-size="27.2" fill="#fc4c02" stroke="#fc4c02" stroke-width="0.7" textLength="103.4" lengthAdjust="spacingAndGlyphs">STRAVA</text>
</svg>
</body></html>
